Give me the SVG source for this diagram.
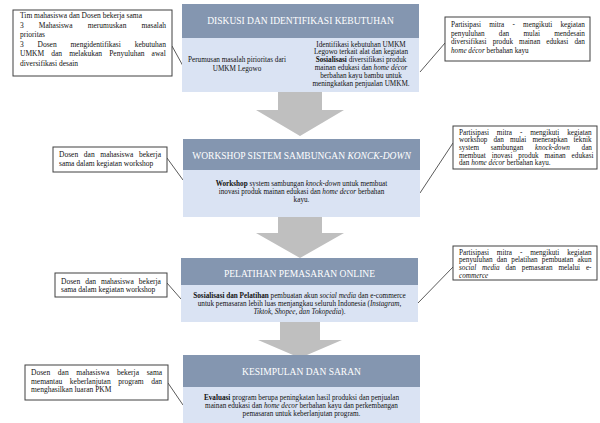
<svg xmlns="http://www.w3.org/2000/svg" width="600" height="423" viewBox="0 0 600 423">
<style>
.hdr{fill:#8496B0}
.bdy{fill:#DAE3F3}
.ht{font-family:"Liberation Serif","DejaVu Serif",serif;font-size:9.5px;fill:#ffffff;text-anchor:middle}
.bt{font-family:"Liberation Serif","DejaVu Serif",serif;font-size:7.2px;fill:#111111;text-anchor:middle}
.ct{font-family:"Liberation Serif","DejaVu Serif",serif;font-size:7.5px;fill:#111111}
.cr{font-family:"Liberation Serif","DejaVu Serif",serif;font-size:7.2px;fill:#111111}
.cb{fill:#ffffff;stroke:#404040;stroke-width:1}
.arr{fill:#BFBFBF}
.con{stroke:#303030;stroke-width:0.8;fill:none}
.b{font-weight:bold}
.i{font-style:italic}
</style>
<g id="arrows">
<path class="arr" d="M278,92 H322 V110 H344 L300,136 L256,110 H278 Z"/>
<path class="arr" d="M278,217 H322 V233 H344 L300,258 L256,233 H278 Z"/>
<path class="arr" d="M280,322 H320 V340 H342 L300,358 L258,340 H280 Z"/>
</g>
<g id="connectors">
<line class="con" x1="172" y1="46" x2="183" y2="66"/>
<line class="con" x1="445" y1="43" x2="420" y2="72"/>
<line class="con" x1="167" y1="158" x2="183" y2="180"/>
<line class="con" x1="453" y1="143" x2="420" y2="193"/>
<line class="con" x1="167" y1="283" x2="181" y2="299"/>
<line class="con" x1="453" y1="267" x2="418" y2="303"/>
<line class="con" x1="168" y1="383" x2="183" y2="405"/>
</g>
<g id="step1">
<rect class="hdr" x="182" y="4" width="237" height="34"/>
<rect class="bdy" x="182" y="38" width="237" height="54"/>
<text class="ht" x="300.5" y="24">DISKUSI DAN IDENTIFIKASI KEBUTUHAN</text>
<text class="bt" x="237" y="62">Perumusan masalah pirioritas dari</text>
<text class="bt" x="237" y="71">UMKM Legowo</text>
<text class="bt" x="361" y="46.5">Identifikasi kebutuhan UMKM</text>
<text class="bt" x="361" y="54.3">Legowo terkait alat dan kegiatan</text>
<text class="bt" x="361" y="62.1"><tspan class="b">Sosialisasi</tspan> diversifikasi produk</text>
<text class="bt" x="361" y="69.9">mainan  edukasi dan <tspan class="i">home décor</tspan></text>
<text class="bt" x="361" y="77.7">berbahan kayu bambu untuk</text>
<text class="bt" x="361" y="85.5">meningkatkan penjualan UMKM.</text>
</g>
<g id="step2">
<rect class="hdr" x="183" y="139" width="237" height="31"/>
<rect class="bdy" x="183" y="170" width="237" height="47"/>
<text class="ht" x="301.5" y="158.5">WORKSHOP SISTEM SAMBUNGAN <tspan class="i">KONCK-DOWN</tspan></text>
<text class="bt" x="301.5" y="185.5"><tspan class="b">Workshop</tspan> system sambungan <tspan class="i">knock-down</tspan> untuk membuat</text>
<text class="bt" x="301.5" y="193.5">inovasi produk mainan edukasi dan <tspan class="i">home decor</tspan> berbahan</text>
<text class="bt" x="301.5" y="201.5">kayu.</text>
</g>
<g id="step3">
<rect class="hdr" x="181" y="258" width="237" height="27"/>
<rect class="bdy" x="181" y="285" width="237" height="37"/>
<text class="ht" x="299.5" y="276.5">PELATIHAN PEMASARAN ONLINE</text>
<text class="bt" x="299.5" y="297.5"><tspan class="b">Sosialisasi dan Pelatihan</tspan> pembuatan akun <tspan class="i">social media</tspan> dan e-commerce</text>
<text class="bt" x="299.5" y="305.5">untuk pemasaran lebih luas menjangkau seluruh Indonesia (<tspan class="i">Instagram,</tspan></text>
<text class="bt" x="299.5" y="313.5"><tspan class="i">Tiktok, Shopee, dan Tokopedia</tspan>).</text>
</g>
<g id="step4">
<rect class="hdr" x="183" y="355" width="237" height="32"/>
<rect class="bdy" x="183" y="387" width="237" height="36"/>
<text class="ht" x="301.5" y="374.5">KESIMPULAN  DAN SARAN</text>
<text class="bt" x="301.5" y="399.5"><tspan class="b">Evaluasi</tspan> program berupa peningkatan hasil produksi dan penjualan</text>
<text class="bt" x="301.5" y="407.5">mainan edukasi dan <tspan class="i">home decor</tspan> berbahan kayu dan perkembangan</text>
<text class="bt" x="301.5" y="415.5">pemasaran untuk keberlanjutan program.</text>
</g>
<g id="note-left-1">
<rect class="cb" x="13" y="10" width="159" height="66"/>
<text class="ct" x="20" y="18">Tim mahasiswa dan Dosen bekerja sama</text>
<text class="ct" x="20" y="27.5" style="word-spacing:13.2px">3 Mahasiswa merumuskan masalah</text>
<text class="ct" x="20" y="37">prioritas</text>
<text class="ct" x="20" y="46.5" style="word-spacing:11.9px">3 Dosen mengidentifikasi kebutuhan</text>
<text class="ct" x="20" y="56" style="word-spacing:5.2px">UMKM dan melakukan Penyuluhan awal</text>
<text class="ct" x="20" y="65.5">diversifikasi desain</text>
</g>
<g id="note-right-1">
<rect class="cb" x="445" y="17" width="145" height="44"/>
<text class="cr" x="451" y="27" style="word-spacing:6.4px">Partisipasi mitra - mengikuti kegiatan</text>
<text class="cr" x="451" y="35.5" style="word-spacing:12.5px">penyuluhan dan mulai mendesain</text>
<text class="cr" x="451" y="44" style="word-spacing:4.3px">diversifikasi produk mainan edukasi dan</text>
<text class="cr" x="451" y="52.5"><tspan class="i">home décor</tspan> berbahan kayu</text>
</g>
<g id="note-left-2">
<rect class="cb" x="53" y="147" width="114" height="25"/>
<text class="ct" x="59" y="157" style="word-spacing:3.8px">Dosen dan mahasiswa bekerja</text>
<text class="ct" x="59" y="166">sama dalam kegiatan workshop</text>
</g>
<g id="note-right-2">
<rect class="cb" x="453" y="126" width="144" height="43"/>
<text class="cr" x="459" y="134.5" style="word-spacing:6.1px">Partisipasi mitra - mengikuti kegiatan</text>
<text class="cr" x="459" y="142.2" style="word-spacing:4.3px">workshop dan mulai menerapkan teknik</text>
<text class="cr" x="459" y="149.9" style="word-spacing:9.9px">system sambungan <tspan class="i">knock-down</tspan> dan</text>
<text class="cr" x="459" y="157.6" style="word-spacing:4.1px">membuat inovasi produk mainan edukasi</text>
<text class="cr" x="459" y="165.3">dan <tspan class="i">home décor</tspan> berbahan kayu.</text>
</g>
<g id="note-left-3">
<rect class="cb" x="55" y="273" width="112" height="24"/>
<text class="ct" x="61" y="283.5" style="word-spacing:3.1px">Dosen dan mahasiswa bekerja</text>
<text class="ct" x="61" y="292">sama dalam kegiatan workshop</text>
</g>
<g id="note-right-3">
<rect class="cb" x="453" y="246" width="144" height="34"/>
<text class="cr" x="459" y="254.5" style="word-spacing:6.1px">Partisipasi mitra - mengikuti kegiatan</text>
<text class="cr" x="459" y="262.3" style="word-spacing:2.4px">penyuluhan dan pelatihan pembuatan akun</text>
<text class="cr" x="459" y="270.1" style="word-spacing:4.1px"><tspan class="i">social media</tspan> dan pemasaran melalui e-</text>
<text class="cr" x="459" y="277.9"><tspan class="i">commerce</tspan></text>
</g>
<g id="note-left-4">
<rect class="cb" x="25" y="365" width="143" height="35"/>
<text class="ct" x="31" y="375" style="word-spacing:5.8px">Dosen dan mahasiswa bekerja sama</text>
<text class="ct" x="31" y="383.5" style="word-spacing:5.7px">memantau keberlanjutan program dan</text>
<text class="ct" x="31" y="392">menghasilkan luaran PKM</text>
</g>
</svg>
